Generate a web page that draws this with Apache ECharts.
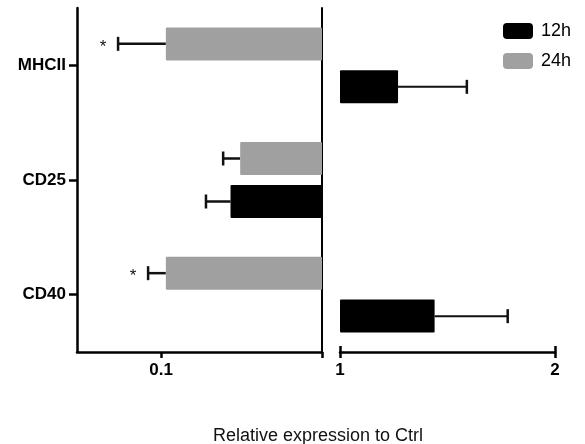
<!DOCTYPE html>
<html>
<head>
<meta charset="UTF-8">
<title>Relative expression to Ctrl</title>
<script src="https://cdn.jsdelivr.net/npm/echarts@6/dist/echarts.min.js"></script>
<style>
html, body { margin: 0; padding: 0; background: #fff; }
#container { width: 585px; height: 444px; }
</style>
</head>
<body>
<div id="container"></div>
<script>
// data (bar = mean, error = end of the error whisker)
var categories = ['MHCII', 'CD25', 'CD40'];
var mean12 = [1.27, 0.27, 1.44];
var error12 = [1.59, 0.19, 1.78];
var mean24 = [0.107, 0.31, 0.107];
var error24 = [0.054, 0.243, 0.083];
var stars24 = ['*', '', '*'];
var leftTicks = [0.1];
var rightTicks = [1, 2];

var FONT = 'Liberation Sans, Arial, Helvetica, sans-serif';
var GRAY = '#a0a0a0';
var BLACK = '#000';
var BAR_W = 33;
var BAR_GAP = 10;

// values below 1 go in the log panel, above 1 in the linear panel
function below(arr) { return arr.map(function (v) { return v < 1 ? v : '-'; }); }
function above(arr) { return arr.map(function (v) { return v > 1 ? v : '-'; }); }

function errorSeries(name, means, errs, stars, slot, gridIdx, keep, lw) {
  var data = [];
  means.forEach(function (m, i) {
    if (keep(m)) data.push([i, m, errs[i]]);
  });
  var off = (slot === 0 ? -1 : 1) * (BAR_W + BAR_GAP) / 2;
  return {
    name: name,
    type: 'custom',
    xAxisIndex: gridIdx === 0 ? 0 : 1,
    yAxisIndex: gridIdx === 0 ? 0 : 2,
    encode: { x: [1, 2], y: 0 },
    data: data,
    z: 1,
    renderItem: function (params, api) {
      var i = api.value(0);
      var a = api.coord([api.value(1), i]);
      var b = api.coord([api.value(2), i]);
      var y = a[1] + off;
      var kids = [
        { type: 'line', shape: { x1: a[0], y1: y, x2: b[0], y2: y },
          style: { stroke: '#111', lineWidth: lw } },
        { type: 'line', shape: { x1: b[0], y1: y - 7, x2: b[0], y2: y + 7 },
          style: { stroke: '#111', lineWidth: 2.5 } }
      ];
      if (stars && stars[i]) {
        kids.push({ type: 'text', x: b[0] - 15, y: y + 3,
          style: { text: stars[i], fill: '#111', font: '17px ' + FONT,
            align: 'center', verticalAlign: 'middle' } });
      }
      return { type: 'group', children: kids };
    }
  };
}

var dom = document.getElementById('container');
var myChart = echarts.init(dom);

var axisLine = { show: true, lineStyle: { color: BLACK, width: 2.5 } };
var tickLabel = { color: BLACK, fontFamily: FONT, fontWeight: 'bold', fontSize: 17 };

var option = {
  animation: false,
  backgroundColor: '#fff',
  legend: {
    data: ['12h', '24h'],
    orient: 'vertical',
    left: 498,
    top: 17,
    itemWidth: 30,
    itemHeight: 16,
    itemGap: 12,
    icon: 'roundRect',
    textStyle: { fontFamily: FONT, fontSize: 18, color: BLACK, padding: [0, 0, 0, 3] }
  },
  graphic: [{
    type: 'text', x: 318, y: 436,
    style: { text: 'Relative expression to Ctrl', font: '18px ' + FONT, fill: '#111',
      align: 'center', verticalAlign: 'middle' }
  }],
  grid: [
    { left: 77, top: 8, width: 245, height: 344 },
    { left: 340, top: 8, width: 215, height: 344 }
  ],
  xAxis: [
    { gridIndex: 0, type: 'log', logBase: 10, min: 0.03, max: 1,
      axisLine: axisLine, splitLine: { show: false },
      axisTick: { show: true, customValues: leftTicks.concat([1]), length: 6,
        lineStyle: { color: BLACK, width: 2.5 } },
      axisLabel: Object.assign({ margin: 10, customValues: leftTicks,
        formatter: function (v) { return String(+v.toPrecision(6)); } }, tickLabel) },
    { gridIndex: 1, type: 'value', min: rightTicks[0], max: rightTicks[rightTicks.length - 1], interval: 1,
      axisLine: axisLine, splitLine: { show: false },
      axisTick: { show: true, length: 6, lineStyle: { color: BLACK, width: 2.5 } },
      axisLabel: Object.assign({ margin: 10 }, tickLabel) },
    { gridIndex: 1, type: 'value', min: rightTicks[0], max: rightTicks[rightTicks.length - 1], interval: 1,
      position: 'bottom', axisLine: { show: false }, splitLine: { show: false },
      axisTick: { show: true, inside: true, length: 6, lineStyle: { color: BLACK, width: 2.5 } },
      axisLabel: { show: false } }
  ],
  yAxis: [
    { gridIndex: 0, type: 'category', data: categories, inverse: true,
      axisLine: axisLine,
      axisTick: { show: true, alignWithLabel: true, length: 8, lineStyle: { color: BLACK, width: 2.5 } },
      axisLabel: Object.assign({ margin: 11 }, tickLabel) },
    { gridIndex: 0, type: 'category', data: categories, inverse: true, position: 'right',
      axisLine: { show: true, lineStyle: { color: BLACK, width: 2 } },
      axisTick: { show: false }, axisLabel: { show: false } },
    { gridIndex: 1, type: 'category', data: categories, inverse: true, show: false }
  ],
  series: [
    { name: '24h', type: 'bar', xAxisIndex: 0, yAxisIndex: 0, data: below(mean24),
      barWidth: BAR_W, barGap: '30%', itemStyle: { color: GRAY, borderRadius: 1 }, z: 2 },
    { name: '12h', type: 'bar', xAxisIndex: 0, yAxisIndex: 0, data: below(mean12),
      barWidth: BAR_W, barGap: '30%', itemStyle: { color: BLACK, borderRadius: 1 }, z: 2 },
    { name: '24h', type: 'bar', xAxisIndex: 1, yAxisIndex: 2, data: above(mean24),
      barWidth: BAR_W, barGap: '30%', itemStyle: { color: GRAY, borderRadius: 1 }, z: 2 },
    { name: '12h', type: 'bar', xAxisIndex: 1, yAxisIndex: 2, data: above(mean12),
      barWidth: BAR_W, barGap: '30%', itemStyle: { color: BLACK, borderRadius: 1 }, z: 2 },
    errorSeries('24h', mean24, error24, stars24, 0, 0, function (m) { return m < 1; }, 2.5),
    errorSeries('12h', mean12, error12, null, 1, 0, function (m) { return m < 1; }, 2.5),
    errorSeries('24h', mean24, error24, null, 0, 1, function (m) { return m > 1; }, 2),
    errorSeries('12h', mean12, error12, null, 1, 1, function (m) { return m > 1; }, 2)
  ]
};

if (option && typeof option === 'object') {
  myChart.setOption(option, true);
}
</script>
</body>
</html>
